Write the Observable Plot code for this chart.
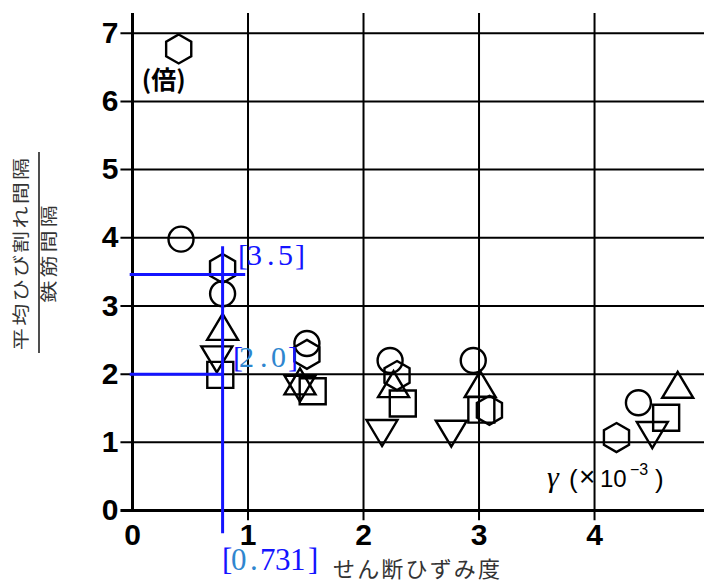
<!DOCTYPE html>
<html><head><meta charset="utf-8">
<script src="https://cdn.jsdelivr.net/npm/d3@7"></script>
<script src="https://cdn.jsdelivr.net/npm/@observablehq/plot@0.6"></script>
<style>body{margin:0;background:#fff} #chart{width:704px;height:584px}</style>
</head><body><div id="chart"></div>
<script>
// ---- data ----
const hexX = [0.40, 0.78, 1.51, 2.29, 3.09, 4.19];
const hexY = [6.77, 3.55, 2.29, 1.98, 1.47, 1.07];
const cirX = [0.42, 0.78, 1.51, 2.23, 2.95, 4.38];
const cirY = [3.98, 3.18, 2.45, 2.20, 2.20, 1.58];
const triX = [0.78, 1.45, 2.26, 3.01, 4.72];
const triY = [2.63, 1.83, 1.79, 1.79, 1.78];
const dtrX = [0.73, 1.45, 2.16, 2.76, 4.50];
const dtrY = [2.28, 1.85, 1.20, 1.19, 1.17];
const sqrX = [0.76, 1.56, 2.34, 3.02, 4.62];
const sqrY = [1.99, 1.75, 1.57, 1.48, 1.36];

const xTicks = [0, 1, 2, 3, 4];
const yTicks = [0, 1, 2, 3, 4, 5, 6, 7];
const xGrid = [1, 2, 3, 4];
const yGrid = [1, 2, 3, 4, 5, 6, 7];

// annotation (blue) values
const annVX = 0.78;            // vertical guide
const annHY = [3.46, 2.0];     // horizontal guides
const annHX2 = [0.98, 0.78];   // right ends of horizontal guides

const yTitleTop = "平均ひび割れ間隔";
const yTitleBottom = "鉄筋間隔";
const xTitle = "せん断ひずみ度";
const unitText = "(倍)";

const XMAX = 4.952, YMAX = 7.29;

// ---- symbols ----
const symCircle = {draw(c){ c.moveTo(12.5,0); c.arc(0,0,12.5,0,2*Math.PI); }};
const symHex = {draw(c){ const R=14.5; for(let i=0;i<6;i++){const a=Math.PI/3*i-Math.PI/2; const px=R*Math.cos(a), py=R*Math.sin(a); i?c.lineTo(px,py):c.moveTo(px,py);} c.closePath(); }};
const symSquare = {draw(c){ c.rect(-13,-13,26,26); }};
const symTri = {draw(c){ const w=15.5,h=26; c.moveTo(0,-2*h/3); c.lineTo(w,h/3); c.lineTo(-w,h/3); c.closePath(); }};
const symDown = {draw(c){ const w=15.5,h=26; c.moveTo(0,2*h/3); c.lineTo(w,-h/3); c.lineTo(-w,-h/3); c.closePath(); }};

const pts = (xs, ys) => xs.map((x,i)=>({x, y: ys[i]}));
const dotOpts = (s) => ({x:"x", y:"y", symbol: s, r: 10, stroke:"black", strokeWidth: 2.4, fill:"none"});

const tickFont = "Liberation Sans, Arial, sans-serif";
const BLUE = "#1414ff";
const LB = "#2f86cf";

const plot = Plot.plot({
  width: 704, height: 584,
  marginLeft: 132, marginRight: 0, marginTop: 13, marginBottom: 74,
  x: {domain: [0, XMAX], axis: null},
  y: {domain: [0, YMAX], axis: null},
  style: {background: "white", overflow: "visible"},
  marks: [
    Plot.ruleY(yGrid, {y: d=>d, x1: -0.1, x2: XMAX, stroke: "black", strokeWidth: 2}),
    Plot.ruleX(xGrid, {x: d=>d, y1: -0.15, y2: YMAX, stroke: "black", strokeWidth: 2}),
    Plot.ruleY([0], {y: d=>d, x1: -0.1, x2: XMAX, stroke: "black", strokeWidth: 3}),
    Plot.ruleX([0], {x: d=>d, y1: 0, y2: YMAX, stroke: "black", strokeWidth: 3}),
    Plot.text(yTicks, {y: d=>d, text: d=>String(d), frameAnchor: "left", dx: -14, textAnchor: "end",
      fontSize: 30, fontWeight: "bold", fontFamily: tickFont, fill: "black"}),
    Plot.text(xTicks, {x: d=>d, text: d=>String(d), frameAnchor: "bottom", dy: 13, lineAnchor: "top",
      fontSize: 30, fontWeight: "bold", fontFamily: tickFont, fill: "black"}),
    Plot.dot(pts(hexX, hexY), dotOpts(symHex)),
    Plot.dot(pts(cirX, cirY), dotOpts(symCircle)),
    Plot.dot(pts(triX, triY), dotOpts(symTri)),
    Plot.dot(pts(dtrX, dtrY), dotOpts(symDown)),
    Plot.dot(pts(sqrX, sqrY), dotOpts(symSquare)),
    Plot.text([unitText], {x: 0.27, y: 6.30, text: d=>d, fontSize: 25, fontWeight: "bold",
      fontFamily: "Noto Sans CJK JP, sans-serif", fill: "black", textAnchor: "middle"}),
    Plot.ruleX([annVX], {x: d=>d, y1: -0.34, y2: 3.87, stroke: BLUE, strokeWidth: 3}),
    Plot.ruleY(annHY, {y: d=>d, x1: -0.02, x2: (d,i)=>annHX2[i], stroke: BLUE, strokeWidth: 3})
  ]
});
document.getElementById("chart").appendChild(plot);

// ---- rich text overlays positioned with the plot's scales ----
const sx = plot.scale("x"), sy = plot.scale("y");
const svg = d3.select(plot);
const serif = "Liberation Serif, DejaVu Serif, serif";

// glyph-by-glyph label: parts = [text, colour, offset]
function blueLabel(x, y, parts, size) {
  const x0 = sx.apply(x), y0 = sy.apply(y);
  const t = svg.append("text").attr("y", y0).attr("text-anchor", "start")
    .attr("font-family", serif).attr("font-size", size);
  parts.forEach(([s, c, dx]) => t.append("tspan").attr("x", x0 + dx).attr("fill", c).text(s));
}
blueLabel(0.918, 3.59, [["[", BLUE, 0], ["3", BLUE, 9], [".", BLUE, 29], ["5", BLUE, 40], ["]", BLUE, 57]], 30);
blueLabel(0.874, 2.10, [["[", BLUE, 0], ["2", LB, 6], [".", LB, 27], ["0", LB, 38], ["]", BLUE, 55]], 30);
blueLabel(0.779, -0.88, [["[", BLUE, 0], ["0", LB, 9], [".", LB, 28], ["7", BLUE, 38], ["3", BLUE, 53], ["1", BLUE, 68], ["]", BLUE, 86]], 31);

// gamma unit label
{
  const gx = sx.apply(3.593), gy = sy.apply(0.337);
  const g = svg.append("g").attr("transform", `translate(${gx},${gy})`).attr("fill", "black")
    .attr("text-anchor", "start");
  const sans = "Liberation Sans, Arial, sans-serif";
  g.append("text").attr("x", 0).attr("y", 0).attr("font-family", serif).attr("font-style", "italic")
    .attr("font-size", 30).text("γ");
  g.append("text").attr("x", 22).attr("y", 1).attr("font-family", sans).attr("font-size", 26).text("(");
  g.append("text").attr("x", 32).attr("y", -1).attr("font-family", sans).attr("font-size", 28).text("×");
  g.append("text").attr("x", 53).attr("y", 0).attr("font-family", sans).attr("font-size", 24).text("10");
  g.append("text").attr("x", 83).attr("y", -12).attr("font-family", sans).attr("font-size", 16).text("−3");
  g.append("text").attr("x", 108).attr("y", 1).attr("font-family", sans).attr("font-size", 26).text(")");
}

// axis titles
{
  const cjk = "Noto Sans CJK JP, sans-serif";
  const cy = 254;
  svg.append("text").attr("transform", `translate(27,${cy}) rotate(-90) scale(1.3,1)`)
    .attr("text-anchor", "middle").attr("font-family", cjk).attr("font-size", 17).attr("fill", "#333")
    .attr("textLength", 148).attr("lengthAdjust", "spacing").text(yTitleTop);
  svg.append("line").attr("x1", 39).attr("x2", 39).attr("y1", 152).attr("y2", 353)
    .attr("stroke", "#222").attr("stroke-width", 1.6);
  svg.append("text").attr("transform", `translate(55,${cy}) rotate(-90) scale(1.3,1)`)
    .attr("text-anchor", "middle").attr("font-family", cjk).attr("font-size", 17).attr("fill", "#333")
    .attr("textLength", 75).attr("lengthAdjust", "spacing").text(yTitleBottom);
  svg.append("text").attr("x", 333).attr("y", 577).attr("text-anchor", "start")
    .attr("font-family", cjk).attr("font-size", 22)
    .attr("fill", "#333").attr("textLength", 167).attr("lengthAdjust", "spacing").text(xTitle);
}
</script></body></html>
